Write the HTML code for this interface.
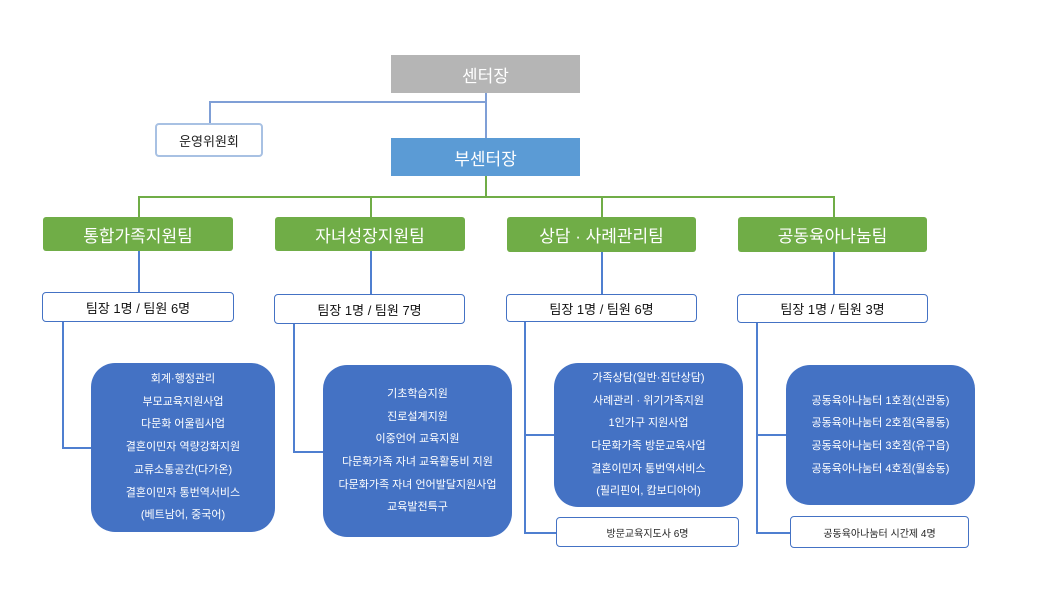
<!DOCTYPE html>
<html><head><meta charset="utf-8"><style>
body{margin:0;width:1039px;height:602px;background:#fff;position:relative;overflow:hidden;font-family:"Liberation Sans","Noto Sans CJK KR","NanumGothic",sans-serif}
.b{position:absolute;box-sizing:border-box;display:flex;align-items:center;justify-content:center;text-align:center}
.l{position:absolute;background:#4f7fd0}
.g{position:absolute;background:#70ad47}
.top{color:#fff;font-size:17px}
.team{background:#70ad47;color:#fff;font-size:17px;border-radius:3px}
.staff{background:#fff;border:1.5px solid #4472c4;border-radius:4px;font-size:13px;color:#111}
.blue{background:#4472c4;color:#fff;font-size:11px;line-height:22.7px;border-radius:24px;flex-direction:column}
.small{background:#fff;border:1.5px solid #4472c4;border-radius:4px;font-size:10px;color:#222}
</style></head><body>
<div class="b top" style="left:391px;top:55px;width:189px;height:38px;background:#b5b5b5">센터장</div>
<div class="b" style="left:155px;top:123px;width:108px;height:34px;border:2px solid #a8c1e3;border-radius:4px;font-size:13px;color:#222">운영위원회</div>
<div class="l" style="left:485px;top:93px;width:1.5px;height:45px;background:#7f9fd6"></div>
<div class="l" style="left:209px;top:101px;width:277px;height:1.5px;background:#7f9fd6"></div>
<div class="l" style="left:209px;top:101px;width:1.5px;height:22px;background:#7f9fd6"></div>
<div class="b top" style="left:391px;top:138px;width:189px;height:38px;background:#5b9bd5">부센터장</div>
<div class="g" style="left:485px;top:176px;width:1.5px;height:21px"></div>
<div class="g" style="left:138px;top:196px;width:696px;height:1.5px"></div>
<div class="g" style="left:138px;top:196px;width:1.5px;height:21px"></div>
<div class="g" style="left:370px;top:196px;width:1.5px;height:21px"></div>
<div class="g" style="left:601px;top:196px;width:1.5px;height:21px"></div>
<div class="g" style="left:833px;top:196px;width:1.5px;height:21px"></div>
<div class="b team" style="left:43px;top:217px;width:190px;height:34px">통합가족지원팀</div>
<div class="b team" style="left:275px;top:217px;width:190px;height:34px">자녀성장지원팀</div>
<div class="b team" style="left:507px;top:217px;width:189px;height:35px">상담 · 사례관리팀</div>
<div class="b team" style="left:738px;top:217px;width:189px;height:35px">공동육아나눔팀</div>
<div class="l" style="left:138px;top:251px;width:1.5px;height:41px"></div>
<div class="l" style="left:370px;top:251px;width:1.5px;height:43px"></div>
<div class="l" style="left:601px;top:252px;width:1.5px;height:42px"></div>
<div class="l" style="left:833px;top:252px;width:1.5px;height:42px"></div>
<div class="b staff" style="left:42px;top:292px;width:192px;height:30px">팀장 1명 / 팀원 6명</div>
<div class="b staff" style="left:274px;top:294px;width:191px;height:30px">팀장 1명 / 팀원 7명</div>
<div class="b staff" style="left:506px;top:294px;width:191px;height:28px">팀장 1명 / 팀원 6명</div>
<div class="b staff" style="left:737px;top:294px;width:191px;height:29px">팀장 1명 / 팀원 3명</div>
<div class="l" style="left:62px;top:322px;width:1.5px;height:126px"></div>
<div class="l" style="left:62px;top:447px;width:29px;height:1.5px"></div>
<div class="l" style="left:293px;top:324px;width:1.5px;height:128px"></div>
<div class="l" style="left:293px;top:451px;width:30px;height:1.5px"></div>
<div class="l" style="left:524px;top:322px;width:1.5px;height:211px"></div>
<div class="l" style="left:524px;top:434px;width:30px;height:1.5px"></div>
<div class="l" style="left:524px;top:532px;width:32px;height:1.5px"></div>
<div class="l" style="left:756px;top:323px;width:1.5px;height:210px"></div>
<div class="l" style="left:756px;top:434px;width:30px;height:1.5px"></div>
<div class="l" style="left:756px;top:532px;width:34px;height:1.5px"></div>
<div class="b blue" style="left:91px;top:363px;width:184px;height:169px"><div>회계·행정관리</div><div>부모교육지원사업</div><div>다문화 어울림사업</div><div>결혼이민자 역량강화지원</div><div>교류소통공간(다가온)</div><div>결혼이민자 통번역서비스</div><div>(베트남어, 중국어)</div></div>
<div class="b blue" style="left:323px;top:365px;width:189px;height:172px"><div>기초학습지원</div><div>진로설계지원</div><div>이중언어 교육지원</div><div>다문화가족 자녀 교육활동비 지원</div><div>다문화가족 자녀 언어발달지원사업</div><div>교육발전특구</div></div>
<div class="b blue" style="left:554px;top:363px;width:189px;height:144px"><div>가족상담(일반·집단상담)</div><div>사례관리 · 위기가족지원</div><div>1인가구 지원사업</div><div>다문화가족 방문교육사업</div><div>결혼이민자 통번역서비스</div><div>(필리핀어, 캄보디아어)</div></div>
<div class="b blue" style="left:786px;top:365px;width:189px;height:140px"><div>공동육아나눔터 1호점(신관동)</div><div>공동육아나눔터 2호점(옥룡동)</div><div>공동육아나눔터 3호점(유구읍)</div><div>공동육아나눔터 4호점(월송동)</div></div>
<div class="b small" style="left:556px;top:517px;width:183px;height:30px">방문교육지도사 6명</div>
<div class="b small" style="left:790px;top:516px;width:179px;height:32px">공동육아나눔터 시간제 4명</div>
</body></html>
